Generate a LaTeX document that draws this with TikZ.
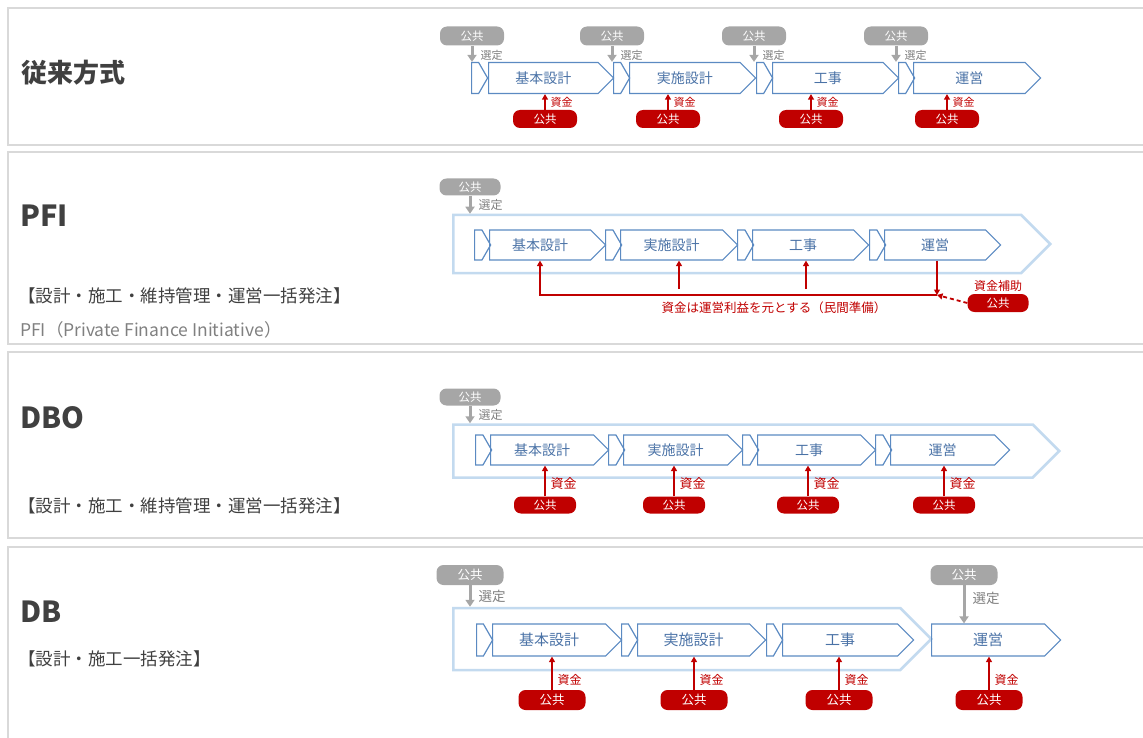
\documentclass[tikz,border=0pt]{standalone}
\usepackage{fontspec}
\setmainfont{Noto Sans CJK JP}
\usetikzlibrary{shapes.symbols,arrows.meta,positioning}

\definecolor{framegray}{HTML}{D9D9D9}
\definecolor{titlegray}{HTML}{404040}
\definecolor{notegray}{HTML}{808080}
\definecolor{boxblue}{HTML}{5B8AC2}
\definecolor{stagetext}{HTML}{4A72A6}
\definecolor{outerblue}{HTML}{C3DAEF}
\definecolor{pillgray}{HTML}{A6A6A6}
\definecolor{labelgray}{HTML}{7F7F7F}
\definecolor{fundred}{HTML}{C00000}

\tikzset{
  frame/.style={draw=framegray, line width=1.5pt},
  title/.style={anchor=west, inner sep=0pt, text=titlegray, font=\bfseries\fontsize{26}{30}\selectfont},
  subtitle/.style={anchor=west, inner sep=0pt, text=titlegray, font=\fontsize{17.5}{21}\selectfont},
  note/.style={anchor=west, inner sep=0pt, text=notegray, font=\fontsize{17.5}{20}\selectfont},
  piece/.style={signal, signal to=east, signal pointer angle=120, draw=boxblue, line width=1.2pt,
    inner sep=0pt, minimum width=16pt, minimum height=31pt, anchor=west},
  stage/.style={signal, signal to=east, signal pointer angle=90, draw=boxblue, line width=1.2pt,
    inner sep=0pt, minimum height=31pt, anchor=west, text=stagetext, font=\fontsize{14}{16}\selectfont},
  outer/.style={signal, signal to=east, signal pointer angle=90, draw=outerblue, line width=2.5pt,
    inner sep=0pt, anchor=west},
  selpill/.style={fill=pillgray, rounded corners=7pt, text=white, inner sep=0pt,
    minimum width=64pt, minimum height=19pt, font=\fontsize{11.5}{13}\selectfont},
  fundpill/.style={fill=fundred, rounded corners=7pt, text=white, inner sep=0pt,
    minimum width=64pt, minimum height=18pt, font=\fontsize{11.5}{13}\selectfont},
  selarrow/.style={draw=pillgray, line width=3pt, -{Triangle[length=7pt,width=9pt]}},
  fundarrow/.style={draw=fundred, line width=1.3pt, -{Triangle[length=5.5pt,width=6pt]}},
  seltext/.style={text=labelgray, inner sep=1pt, font=\fontsize{12}{14}\selectfont},
  fundtext/.style={text=fundred, inner sep=1pt, font=\fontsize{12}{14}\selectfont},
  sellabel/.style={seltext, right=6pt},
  fundlabel/.style={fundtext, right=4pt},
}

\begin{document}
\begin{tikzpicture}[x=1pt, y=-1pt]
    \useasboundingbox (0,0) rectangle (1143,738);

    % 従来方式
    \draw[frame] (1143,8) -- (8,8) -- (8,145) -- (1143,145);
    \node (t1) [title] at (21,73) {従来方式};

    \node (p1a) [piece] at (471,78) {};
    \node (b1a) [stage, minimum width=125pt] at (488,78) {基本設計};
    \node (p1b) [piece] at (613,78) {};
    \node (b1b) [stage, minimum width=126pt] at (629,78) {実施設計};
    \node (p1c) [piece] at (756,78) {};
    \node (b1c) [stage, minimum width=126pt] at (772,78) {工事};
    \node (p1d) [piece] at (898,78) {};
    \node (b1d) [stage, minimum width=127pt] at (913,78) {運営};

    \node (s1a) [selpill] at (472,36) {公共};
    \node (s1b) [selpill] at (612,36) {公共};
    \node (s1c) [selpill] at (754,36) {公共};
    \node (s1d) [selpill] at (896,36) {公共};
    \draw[selarrow] (s1a.south) -- (s1a.south |- p1a.north) node[sellabel, pos=0.6, font=\fontsize{11}{13}\selectfont] {選定};
    \draw[selarrow] (s1b.south) -- (s1b.south |- p1b.north) node[sellabel, pos=0.6, font=\fontsize{11}{13}\selectfont] {選定};
    \draw[selarrow] (s1c.south) -- (s1c.south |- p1c.north) node[sellabel, pos=0.6, font=\fontsize{11}{13}\selectfont] {選定};
    \draw[selarrow] (s1d.south) -- (s1d.south |- p1d.north) node[sellabel, pos=0.6, font=\fontsize{11}{13}\selectfont] {選定};

    \node (f1a) [fundpill] at (545,119) {公共};
    \node (f1b) [fundpill] at (668,119) {公共};
    \node (f1c) [fundpill] at (811,119) {公共};
    \node (f1d) [fundpill] at (947,119) {公共};
    \draw[fundarrow] (f1a.north) -- (f1a.north |- b1a.south) node[fundlabel, midway, font=\fontsize{11}{13}\selectfont] {資金};
    \draw[fundarrow] (f1b.north) -- (f1b.north |- b1b.south) node[fundlabel, midway, font=\fontsize{11}{13}\selectfont] {資金};
    \draw[fundarrow] (f1c.north) -- (f1c.north |- b1c.south) node[fundlabel, midway, font=\fontsize{11}{13}\selectfont] {資金};
    \draw[fundarrow] (f1d.north) -- (f1d.north |- b1d.south) node[fundlabel, midway, font=\fontsize{11}{13}\selectfont] {資金};

    % PFI
    \draw[frame] (1143,152) -- (8,152) -- (8,344) -- (1143,344);
    \node (t2) [title, font=\bfseries\fontsize{29}{32}\selectfont] at (20,216) {PFI};
    \node (d2) [subtitle] at (18,296) {【設計・施工・維持管理・運営一括発注】};
    \node (e2) [note] at (20,330) {PFI（Private Finance Initiative）};

    \node (o2) [outer, minimum width=597pt, minimum height=58pt] at (452,244) {};
    \node (p2a) [piece, minimum height=30pt] at (474,245) {};
    \node (b2a) [stage, minimum height=30pt, minimum width=116pt] at (489,245) {基本設計};
    \node (p2b) [piece, minimum height=30pt] at (605,245) {};
    \node (b2b) [stage, minimum height=30pt, minimum width=117pt] at (620,245) {実施設計};
    \node (p2c) [piece, minimum height=30pt] at (737,245) {};
    \node (b2c) [stage, minimum height=30pt, minimum width=116pt] at (752,245) {工事};
    \node (p2d) [piece, minimum height=30pt] at (869,245) {};
    \node (b2d) [stage, minimum height=30pt, minimum width=116pt] at (884,245) {運営};

    \node (s2) [selpill, minimum width=61pt, minimum height=17pt] at (470,187) {公共};
    \draw[selarrow] (s2.south) -- (s2.south |- o2.north) node[sellabel, midway] {選定};

    \coordinate (c2) at (540,295);
    \coordinate (j2) at (937,295);
    \coordinate (m2b) at (679,289);
    \coordinate (m2c) at (806,289);
    \node (f2) [fundpill, minimum width=61pt] at (998,303) {公共};
    \node (l2) [fundtext, above=1pt of f2] {資金補助};
    \draw[fundarrow] (j2) -- (c2) -- (c2 |- b2a.south);
    \draw[fundarrow] (m2b) -- (m2b |- b2b.south);
    \draw[fundarrow] (m2c) -- (m2c |- b2c.south);
    \draw[fundarrow] (j2 |- b2d.south) -- (j2);
    \draw[fundarrow, line width=1.8pt, dash pattern=on 4pt off 3pt] (f2.west) -- (j2);
    \node (n2) [fundtext, font=\fontsize{12.5}{15}\selectfont] at (774,308) {資金は運営利益を元とする（民間準備）};

    % DBO
    \draw[frame] (1143,352) -- (8,352) -- (8,538) -- (1143,538);
    \node (t3) [title, font=\bfseries\fontsize{29}{32}\selectfont] at (20,418) {DBO};
    \node (d3) [subtitle] at (18,506) {【設計・施工・維持管理・運営一括発注】};

    \node (o3) [outer, minimum width=606pt, minimum height=53pt] at (452,451) {};
    \node (p3a) [piece, minimum height=30pt] at (475,450) {};
    \node (b3a) [stage, minimum height=30pt, minimum width=118pt] at (490,450) {基本設計};
    \node (p3b) [piece, minimum height=30pt] at (608,450) {};
    \node (b3b) [stage, minimum height=30pt, minimum width=119pt] at (623,450) {実施設計};
    \node (p3c) [piece, minimum height=30pt] at (742,450) {};
    \node (b3c) [stage, minimum height=30pt, minimum width=118pt] at (757,450) {工事};
    \node (p3d) [piece, minimum height=30pt] at (875,450) {};
    \node (b3d) [stage, minimum height=30pt, minimum width=119pt] at (890,450) {運営};

    \node (s3) [selpill, minimum width=61pt, minimum height=17pt] at (470,397) {公共};
    \draw[selarrow] (s3.south) -- (s3.south |- o3.north) node[sellabel, midway] {選定};

    \node (f3a) [fundpill, minimum width=62pt, minimum height=17pt] at (545,505) {公共};
    \node (f3b) [fundpill, minimum width=62pt, minimum height=17pt] at (674,505) {公共};
    \node (f3c) [fundpill, minimum width=62pt, minimum height=17pt] at (808,505) {公共};
    \node (f3d) [fundpill, minimum width=62pt, minimum height=17pt] at (944,505) {公共};
    \draw[fundarrow] (f3a.north) -- (f3a.north |- b3a.south) node[fundlabel, pos=0.4, font=\fontsize{13}{15}\selectfont] {資金};
    \draw[fundarrow] (f3b.north) -- (f3b.north |- b3b.south) node[fundlabel, pos=0.4, font=\fontsize{13}{15}\selectfont] {資金};
    \draw[fundarrow] (f3c.north) -- (f3c.north |- b3c.south) node[fundlabel, pos=0.4, font=\fontsize{13}{15}\selectfont] {資金};
    \draw[fundarrow] (f3d.north) -- (f3d.north |- b3d.south) node[fundlabel, pos=0.4, font=\fontsize{13}{15}\selectfont] {資金};

    % DB
    \draw[frame] (1143,547) -- (8,547) -- (8,738);
    \node (t4) [title, font=\bfseries\fontsize{29}{32}\selectfont] at (20,612) {DB};
    \node (d4) [subtitle] at (18,659) {【設計・施工一括発注】};

    \node (o4) [outer, minimum width=478pt, minimum height=62pt] at (452,639) {};
    \node (p4a) [piece, minimum height=32pt] at (476,640) {};
    \node (b4a) [stage, minimum height=32pt, minimum width=129pt, font=\fontsize{15}{17}\selectfont] at (492,640) {基本設計};
    \node (p4b) [piece, minimum height=32pt] at (621,640) {};
    \node (b4b) [stage, minimum height=32pt, minimum width=128pt, font=\fontsize{15}{17}\selectfont] at (637,640) {実施設計};
    \node (p4c) [piece, minimum height=32pt] at (766,640) {};
    \node (b4c) [stage, minimum height=32pt, minimum width=131pt, font=\fontsize{15}{17}\selectfont] at (782,640) {工事};
    \node (b4d) [stage, minimum height=32pt, minimum width=129pt, font=\fontsize{15}{17}\selectfont] at (931,640) {運営};

    \node (s4a) [selpill, minimum width=67pt, minimum height=20pt, font=\fontsize{12.5}{14}\selectfont] at (470,575) {公共};
    \node (s4b) [selpill, minimum width=67pt, minimum height=20pt, font=\fontsize{12.5}{14}\selectfont] at (964,575) {公共};
    \draw[selarrow] (s4a.south) -- (s4a.south |- o4.north) node[sellabel, midway, font=\fontsize{13.5}{16}\selectfont] {選定};
    \draw[selarrow] (s4b.south) -- (s4b.south |- b4d.north) node[sellabel, pos=0.35, font=\fontsize{13.5}{16}\selectfont] {選定};

    \node (f4a) [fundpill, minimum width=67pt, minimum height=20pt, font=\fontsize{12.5}{14}\selectfont] at (552,700) {公共};
    \node (f4b) [fundpill, minimum width=67pt, minimum height=20pt, font=\fontsize{12.5}{14}\selectfont] at (694,700) {公共};
    \node (f4c) [fundpill, minimum width=67pt, minimum height=20pt, font=\fontsize{12.5}{14}\selectfont] at (839,700) {公共};
    \node (f4d) [fundpill, minimum width=67pt, minimum height=20pt, font=\fontsize{12.5}{14}\selectfont] at (989,700) {公共};
    \draw[fundarrow] (f4a.north) -- (f4a.north |- b4a.south) node[fundlabel, pos=0.3] {資金};
    \draw[fundarrow] (f4b.north) -- (f4b.north |- b4b.south) node[fundlabel, pos=0.3] {資金};
    \draw[fundarrow] (f4c.north) -- (f4c.north |- b4c.south) node[fundlabel, pos=0.3] {資金};
    \draw[fundarrow] (f4d.north) -- (f4d.north |- b4d.south) node[fundlabel, pos=0.3] {資金};
\end{tikzpicture}
\end{document}
